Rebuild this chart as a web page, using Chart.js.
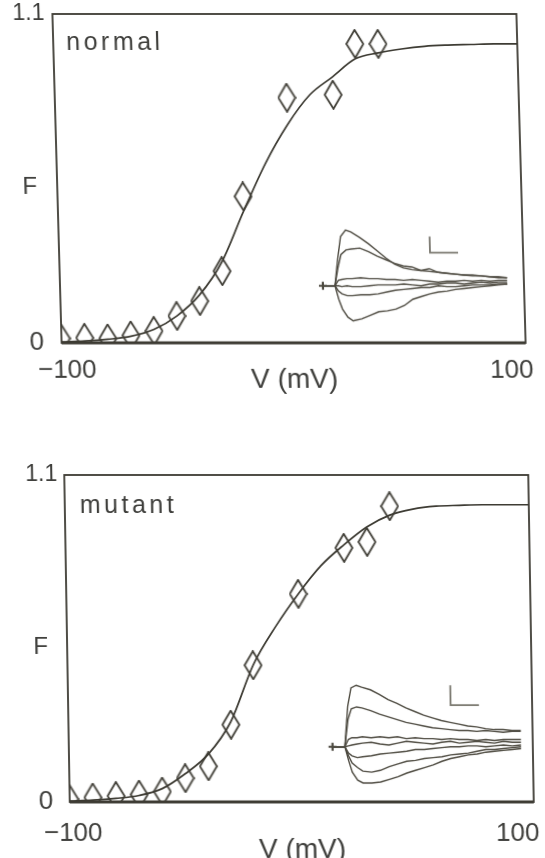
<!DOCTYPE html>
<html>
<head>
<meta charset="utf-8">
<title>F-V normal / mutant</title>
<script src="https://cdn.jsdelivr.net/npm/chart.js@4.4.1/dist/chart.umd.min.js"></script>
<style>
  html, body { margin: 0; padding: 0; background: #fff; }
  body { width: 545px; height: 858px; overflow: hidden; position: relative; }
  .panel { position: absolute; left: 0; width: 545px; }
  .panel canvas { position: absolute; }
</style>
</head>
<body>
<div class="panel" style="top:0;height:410px;transform:skewX(1.6deg);transform-origin:289px 178px">
  <canvas id="normalChart" width="545" height="410" style="left:0;top:0"></canvas>
  <canvas id="normalInset" width="210" height="120" style="left:307px;top:215px"></canvas>
</div>
<div class="panel" style="top:440px;height:440px;transform:skewX(0.96deg);transform-origin:299px 198px">
  <canvas id="mutantChart" width="545" height="440" style="left:0;top:0"></canvas>
  <canvas id="mutantInset" width="215" height="130" style="left:318px;top:230px"></canvas>
</div>
<script>
const curveV = [-100, -90, -80, -70, -60, -50, -40, -30, -20, -10, 0, 10, 20, 30, 40, 50, 60, 70, 80, 90, 100];
const normalCurve = [0.003, 0.006, 0.012, 0.022, 0.045, 0.09, 0.16, 0.27, 0.44, 0.60, 0.73, 0.83, 0.89, 0.95, 0.97, 0.983, 0.992, 0.996, 0.998, 1.0, 1.0];
const mutantCurve = [0.003, 0.006, 0.012, 0.022, 0.045, 0.095, 0.16, 0.27, 0.46, 0.59, 0.70, 0.795, 0.865, 0.925, 0.965, 0.985, 0.995, 0.998, 1.0, 1.0, 1.0];

// measured points (diamonds)
const pointV = [-100, -90, -80, -70, -60, -50, -40, -30, -20, 0, 20, 30, 40];
const normalPoints = [0.015, 0.017, 0.015, 0.025, 0.04, 0.09, 0.14, 0.24, 0.49, 0.82, 0.83, 1.0, 1.0];
const mutantPoints = [0.01, 0.015, 0.02, 0.025, 0.035, 0.08, 0.12, 0.26, 0.46, 0.70, 0.855, 0.875, 0.995];

// axis ticks
const xTicks = [-100, 100];
const xTickLabels = ["\u2212100", "100\u2003\u2002"];
const yTicks = [0, 0.52, 1.1];
const yTickLabels = ["0\u2009\u2006", "F\u2002", "1.1"];
const xTitle = "V (mV)";

// inset current traces (arbitrary units, baseline 0)
const insetT = [-7, 0, 2, 4, 7, 10, 15, 20, 25, 30, 35, 40, 45, 50, 55, 60, 65, 70, 75, 80, 85, 90, 95, 100];
const normalTraces = [
  [0, 0, 30, 55, 62, 60, 54, 47, 39, 31, 24, 20, 18, 17, 19, 15, 14, 13, 12, 11, 11, 10, 9, 9],
  [0, 0, 20, 35, 40, 41, 42, 38, 33, 29, 25, 22, 21, 17, 16, 15, 14, 13, 12, 12, 11, 10, 10, 9],
  [0, 0, 6, 7, 8, 8, 9, 8, 8, 7, 7, 6, 7, 6, 5, 4, 5, 5, 6, 5, 6, 5, 6, 6],
  [0, 0, 0, -1, 0, -1, -1, 0, 1, 1, 1, 2, 1, 0, 2, 2, 3, 3, 2, 3, 4, 3, 4, 4],
  [0, 0, -6, -9, -11, -11, -10, -10, -9, -7, -5, -4, -3, -2, -2, 0, -1, -1, 0, 1, 1, 1, 2, 2],
  [0, 0, -15, -26, -35, -39, -37, -33, -29, -28, -26, -22, -15, -12, -9, -7, -6, -4, -3, -2, -1, 0, 1, 2]
];
const mutantTraces = [
  [0, 0, 45, 65, 68, 66, 63, 58, 52, 48, 43, 39, 35, 32, 29, 27, 25, 23, 22, 20, 19, 19, 18, 18],
  [0, 0, 30, 42, 44, 43, 40, 36, 33, 30, 27, 25, 23, 21, 20, 19, 18, 18, 17, 18, 17, 16, 17, 17],
  [0, 0, 8, 10, 10, 11, 10, 11, 10, 11, 9, 10, 9, 9, 8, 9, 8, 8, 7, 8, 7, 8, 8, 8],
  [0, 0, 1, 2, 3, 4, 5, 3, 2, 4, 6, 5, 4, 3, 5, 6, 4, 5, 6, 5, 4, 6, 5, 5],
  [0, 0, -7, -10, -12, -11, -10, -8, -7, -6, -5, -3, -3, -2, -1, 0, 0, 1, 1, 0, 1, 2, 1, 2],
  [0, 0, -10, -18, -23, -27, -28, -26, -22, -19, -16, -15, -13, -12, -11, -9, -8, -7, -5, -3, -3, -2, -1, 0],
  [0, 0, -15, -28, -37, -40, -40, -39, -36, -33, -29, -26, -23, -20, -16, -13, -11, -9, -8, -6, -5, -4, -3, -2]
];
// scale bars of the insets
const normalBarT = [55.7, 55.7, 72];
const normalBarA = [55, 37, 37];
const mutantBarT = [60.4, 60.4, 76.5];
const mutantBarA = [68, 46, 46];

const INK = "#3d3b33";
const TEXT = "#3f3f3c";
const TRACE = "#4d4a40";
const FONT = "'Liberation Sans', Arial, sans-serif";

const zip = (xs, ys) => xs.map((x, i) => ({ x: x, y: ys[i] }));

// tall open diamond used as marker
function makeDiamond(w, h) {
  const c = document.createElement("canvas");
  c.width = w + 2; c.height = h + 2;
  const g = c.getContext("2d");
  g.strokeStyle = INK;
  g.lineWidth = 1.8;
  g.beginPath();
  g.moveTo(c.width / 2, 1);
  g.lineTo(c.width - 1, c.height / 2);
  g.lineTo(c.width / 2, c.height - 1);
  g.lineTo(1, c.height / 2);
  g.closePath();
  g.stroke();
  return c;
}
const diamond = makeDiamond(17, 28);

const framePlugin = {
  id: "frame",
  afterDatasetsDraw(chart) {
    const { ctx, chartArea: a } = chart;
    ctx.save();
    ctx.strokeStyle = INK;
    ctx.lineWidth = 1.8;
    ctx.strokeRect(a.left, a.top, a.right - a.left, a.bottom - a.top);
    ctx.lineWidth = 2.8;
    ctx.beginPath();
    ctx.moveTo(a.left, a.bottom);
    ctx.lineTo(a.right, a.bottom);
    ctx.stroke();
    ctx.restore();
  }
};

const labelPlugin = {
  id: "panelLabel",
  afterDraw(chart, args, opts) {
    const { ctx, chartArea: a } = chart;
    ctx.save();
    ctx.fillStyle = TEXT;
    ctx.font = "25px " + FONT;
    ctx.letterSpacing = "3.5px";
    ctx.textAlign = "left";
    ctx.textBaseline = "alphabetic";
    ctx.fillText(opts.text, a.left + opts.dx, a.top + opts.dy);
    ctx.restore();
  }
};

function yTickFont(c) {
  const v = c.tick ? c.tick.value : 0;
  if (v === 1.1) return { family: FONT, size: 23 };
  if (v === 0) return { family: FONT, size: 26 };
  return { family: FONT, size: 24 };
}

function panelConfig(o) {
  return {
    type: "scatter",
    data: {
      datasets: [
        { data: zip(curveV, o.curve), showLine: true, pointRadius: 0, borderColor: INK, borderWidth: 1.7,
          cubicInterpolationMode: "monotone", clip: 0 },
        { data: zip(pointV, o.points), showLine: false, pointStyle: diamond, pointRadius: 8, clip: 0 }
      ]
    },
    options: {
      responsive: false,
      animation: false,
      events: [],
      layout: { padding: { left: 0, top: o.top, right: o.right, bottom: 0 } },
      plugins: {
        legend: { display: false },
        tooltip: { enabled: false },
        panelLabel: { text: o.label, dx: o.labelDx, dy: o.labelDy }
      },
      scales: {
        x: {
          type: "linear", min: -100, max: 100,
          grid: { display: false, drawTicks: false },
          border: { display: false },
          afterBuildTicks: s => { s.ticks = xTicks.map(v => ({ value: v })); },
          afterFit: s => { s.height = o.xAxisH; s.paddingLeft = 0; s.paddingRight = 0; },
          ticks: {
            autoSkip: false, maxRotation: 0, padding: o.xTickPad, labelOffset: o.xLabelOffset,
            color: TEXT, font: { family: FONT, size: 26 },
            callback: (v, i) => xTickLabels[i]
          },
          title: { display: true, text: xTitle, color: TEXT, font: { family: FONT, size: 28 },
                   padding: { top: 0, bottom: o.xTitlePad } }
        },
        y: {
          type: "linear", min: 0, max: 1.1,
          grid: { display: false, drawTicks: false },
          border: { display: false },
          afterBuildTicks: s => { s.ticks = yTicks.map(v => ({ value: v })); },
          afterFit: s => { s.width = o.left; s.paddingTop = 0; s.paddingBottom = 0; },
          ticks: {
            autoSkip: false, padding: o.yTickPad, color: TEXT,
            font: yTickFont,
            callback: (v, i) => yTickLabels[i]
          }
        }
      }
    },
    plugins: [framePlugin, labelPlugin]
  };
}

function insetConfig(traces, barT, barA, r) {
  const datasets = traces.map(tr => ({
    data: zip(insetT, tr), showLine: true, pointRadius: 0,
    borderColor: TRACE, borderWidth: 1.4, tension: 0
  }));
  datasets.push({ data: zip(barT, barA), showLine: true, pointRadius: 0, borderColor: "#7a786f", borderWidth: 1.8 });
  datasets.push({ data: [{ x: insetT[0], y: 0 }], showLine: false, pointStyle: "cross",
                  pointRadius: 4, borderColor: TRACE, borderWidth: 2.2 });
  return {
    type: "scatter",
    data: { datasets: datasets },
    options: {
      responsive: false, animation: false, events: [],
      plugins: { legend: { display: false }, tooltip: { enabled: false } },
      scales: {
        x: { type: "linear", display: false, min: r.tMin, max: r.tMax },
        y: { type: "linear", display: false, min: r.aMin, max: r.aMax }
      }
    }
  };
}

new Chart(document.getElementById("normalChart"), panelConfig({
  curve: normalCurve, points: normalPoints, label: "normal",
  top: 14, right: 24, left: 57, xAxisH: 67,
  xTickPad: 12, xLabelOffset: 5, xTitlePad: 13, yTickPad: 8,
  labelDx: 13, labelDy: 36
}));
new Chart(document.getElementById("mutantChart"), panelConfig({
  curve: mutantCurve, points: mutantPoints, label: "mutant",
  top: 35, right: 14, left: 67, xAxisH: 78,
  xTickPad: 16, xLabelOffset: 3, xTitlePad: 13, yTickPad: 7,
  labelDx: 15, labelDy: 38
}));
new Chart(document.getElementById("normalInset"),
  insetConfig(normalTraces, normalBarT, normalBarA, { tMin: -10.9, tMax: 103.8, aMin: -48, aMax: 72 }));
new Chart(document.getElementById("mutantInset"),
  insetConfig(mutantTraces, mutantBarT, mutantBarA, { tMin: -10.7, tMax: 104.3, aMin: -52, aMax: 78 }));
</script>
</body>
</html>
